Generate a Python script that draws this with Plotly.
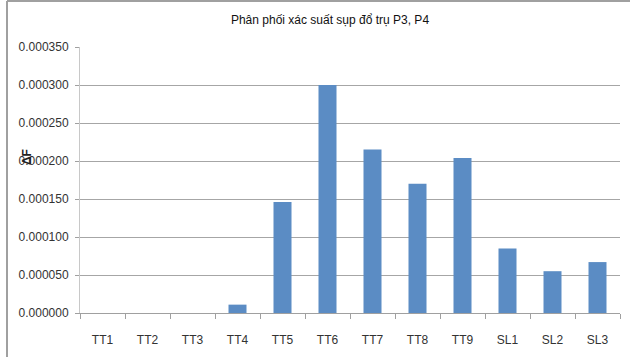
import plotly.graph_objects as go

categories = ["TT1", "TT2", "TT3", "TT4", "TT5", "TT6", "TT7", "TT8", "TT9", "SL1", "SL2", "SL3"]
values = [0.0, 0.0, 0.0, 0.000011, 0.000146, 0.000300, 0.000215, 0.000170, 0.000204, 0.000085, 0.000055, 0.000067]
y_ticks = [0.0, 0.00005, 0.0001, 0.00015, 0.0002, 0.00025, 0.0003, 0.00035]
title_text = "Phân phối xác suất sụp đổ trụ P3, P4"
y_title = "ΔF"

fig = go.Figure(go.Bar(x=categories, y=values, marker=dict(color="#5b8cc4", line=dict(width=0)), width=0.4))

font = "Liberation Sans"
fig.update_layout(
    width=630, height=357,
    margin=dict(l=80, r=10, t=47, b=44),
    paper_bgcolor="white", plot_bgcolor="white",
    showlegend=False,
    font=dict(family=font, size=12, color="#333"),
    title=dict(text=title_text, x=330/630, xanchor="center", y=1 - 20/357, yanchor="middle",
               font=dict(family=font, size=12, color="#111")),
)
fig.update_xaxes(
    type="category", showline=True, linecolor="#a0a0a0", linewidth=1,
    ticks="outside", tickson="boundaries", ticklen=5, tickcolor="#a0a0a0",
    ticklabelstandoff=16,
    showgrid=False, tickfont=dict(size=12, color="#333"),
)
fig.update_yaxes(
    range=[0, 0.00035], tickvals=y_ticks, tickformat=".6f",
    showline=True, linecolor="#c8c8c8", linewidth=1,
    ticks="outside", ticklen=4, tickcolor="#a0a0a0",
    ticklabelstandoff=4,
    showgrid=True, gridcolor="#a6a6a6", gridwidth=1, zeroline=False,
    tickfont=dict(size=12, color="#333"),
)
fig.add_annotation(text="<b>" + y_title + "</b>", xref="paper", yref="paper",
                   x=(18 - 80) / 540, y=(313 - 157) / 266, textangle=-90, showarrow=False,
                   font=dict(size=12, color="#222"))
# outer frame lines (left and top)
fig.add_shape(type="line", xref="paper", yref="paper", x0=(7 - 80) / 540, x1=(7 - 80) / 540,
              y0=(313 - 357) / 266, y1=(313 - 1) / 266, line=dict(color="#a0a0a0", width=2))
fig.add_shape(type="line", xref="paper", yref="paper", x0=(7 - 80) / 540, x1=(630 - 80) / 540,
              y0=(313 - 1) / 266, y1=(313 - 1) / 266, line=dict(color="#a0a0a0", width=2))

fig.write_html("out.html")
